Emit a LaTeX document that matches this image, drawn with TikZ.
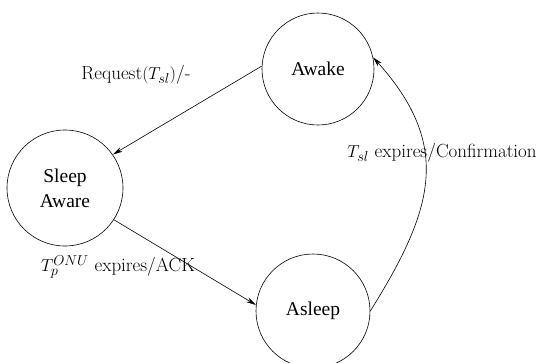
\documentclass[tikz,border=0pt]{standalone}
\usepackage{fontspec}
\newfontfamily\stfont{Liberation Serif}
\usetikzlibrary{arrows.meta}
\begin{document}
\begin{tikzpicture}[x=1pt,y=1pt,
  state/.style={circle,draw,line width=0.6pt,minimum size=#1,inner sep=0pt,align=center,font=\stfont\fontsize{19.5}{23}\selectfont},
  trans/.style={-{Stealth[length=10pt,width=5pt]},line width=0.6pt},
  lbl/.style={font=\fontsize{19}{22}\selectfont,inner sep=0pt}]
\useasboundingbox (0,0) rectangle (540,-362);
\node[state=112pt] (awake) at (318,-69) {Awake};
\node[state=116pt] (sa) at (65,-188) {Sleep\\[2pt]Aware};
\node[state=114pt] (asleep) at (313,-311) {Asleep};
\draw[trans] (awake.177) -- (sa.35);
\draw[trans] (sa.-33) -- (asleep.174);
\draw[trans] (asleep.0) to[out=58,in=-48,looseness=1.2] (awake.12);
\node[lbl] (l1) at (136,-75) {Request$(T_{sl})$/-};
\node[lbl] (l2) at (442,-153) {$T_{sl}$ expires/Confirmation};
\node[lbl] (l3) at (118,-267) {$T_{p}^{ONU}$ expires/ACK};
\end{tikzpicture}
\end{document}
